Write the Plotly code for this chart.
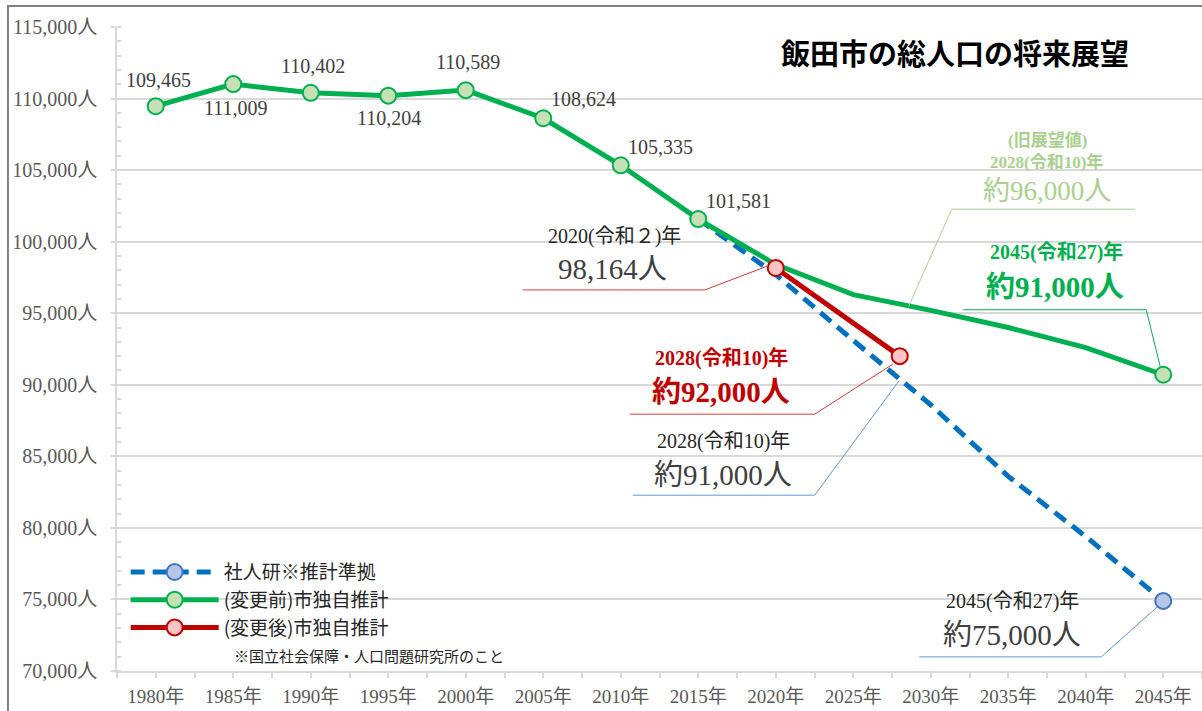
import plotly.graph_objects as go

# ---------------- data ----------------
years = [1980, 1985, 1990, 1995, 2000, 2005, 2010, 2015, 2020, 2025, 2030, 2035, 2040, 2045]
pop_before = [109465, 111009, 110402, 110204, 110589, 108624, 105335, 101581,
              98400, 96300, 95200, 94000, 92600, 90700]          # (変更前)市独自推計
ipss_years = [2015, 2020, 2025, 2030, 2035, 2040, 2045]
pop_ipss = [101581, 97700, 93100, 88600, 83600, 79400, 74900]    # 社人研推計準拠
after_years = [2020, 2028]
pop_after = [98164, 92000]                                        # (変更後)市独自推計
last_census_year = 2015

series_names = ["社人研※推計準拠", "(変更前)市独自推計", "(変更後)市独自推計"]
title_text = "飯田市の総人口の将来展望"
note_text = "※国立社会保障・人口問題研究所のこと"
y_ticks = list(range(70000, 115001, 5000))
x_ticks = years

# ---------------- styles ----------------
SERIF = "Liberation Serif, Noto Sans CJK JP, serif"
SANS = "Noto Sans CJK JP, sans-serif"
GREEN, GREEN_FILL = "#00b050", "#c5e0b4"
BLUE, BLUE_EDGE, BLUE_FILL = "#0070c0", "#4472c4", "#b4c7e7"
RED, RED_FILL = "#c00000", "#ffc4c4"
LIGHT_GREEN = "#a9d18e"
GRID = "#d9d9d9"
SMALL, BIG = 20, 29

fig = go.Figure()

# blue dashed (IPSS)
fig.add_trace(go.Scatter(x=ipss_years, y=pop_ipss, mode="lines",
                         line=dict(color=BLUE, width=5, dash="14px,8px"),
                         showlegend=False, hoverinfo="skip"))
fig.add_trace(go.Scatter(x=ipss_years[-1:], y=pop_ipss[-1:], mode="markers",
                         marker=dict(size=16, color=BLUE_FILL, line=dict(color=BLUE_EDGE, width=2)),
                         showlegend=False, hoverinfo="skip"))

# green (before change)
fig.add_trace(go.Scatter(x=years, y=pop_before, mode="lines",
                         line=dict(color=GREEN, width=5),
                         showlegend=False, hoverinfo="skip"))
mk_x = [x for x in years if x <= last_census_year or x == years[-1]]
mk_y = [v for x, v in zip(years, pop_before) if x <= last_census_year or x == years[-1]]
fig.add_trace(go.Scatter(x=mk_x, y=mk_y, mode="markers",
                         marker=dict(size=16, color=GREEN_FILL, line=dict(color=GREEN, width=2)),
                         showlegend=False, hoverinfo="skip"))

# red (after change)
fig.add_trace(go.Scatter(x=after_years, y=pop_after, mode="lines+markers",
                         line=dict(color=RED, width=5),
                         marker=dict(size=16, color=RED_FILL, line=dict(color=RED, width=2)),
                         showlegend=False, hoverinfo="skip"))

# legend-only traces
legend_specs = [
    (series_names[0], dict(color=BLUE, width=5, dash="14px,8px"), BLUE_FILL, BLUE_EDGE),
    (series_names[1], dict(color=GREEN, width=5), GREEN_FILL, GREEN),
    (series_names[2], dict(color=RED, width=5), RED_FILL, RED),
]
for name, ln, fill, edge in legend_specs:
    fig.add_trace(go.Scatter(x=[None], y=[None], mode="lines+markers", name=name,
                             line=ln, marker=dict(size=16, color=fill, line=dict(color=edge, width=2))))

annotations = []

# data labels for census values (offsets in px: dx, dy-up)
label_offsets = [(3, 26), (3, -24), (2, 27), (1, -22), (2, 28), (40, 19), (40, 18), (40, 18)]
for (x, v), (dx, dy) in zip(zip(years, pop_before), label_offsets):
    annotations.append(dict(x=x, y=v, xref="x", yref="y", text=f"{v:,}", showarrow=False,
                            xshift=dx, yshift=dy, xanchor="center", yanchor="middle",
                            font=dict(family=SERIF, size=20, color="#404040")))

# callouts: anchor point, text lines (text, size, color, bold, dx, dy), leader path, leader colour
callouts = [
    dict(x=after_years[0], y=pop_after[0],
         lines=[("2020(令和２)年", SMALL, "#262626", False, -161, 31),
                (f"{pop_after[0]:,}人", BIG, "#404040", False, -163, -1)],
         path=[(-253, -22), (-71, -22), (-8, 2)], color="#d23b3b"),
    dict(x=after_years[1], y=pop_after[1],
         lines=[("2028(令和10)年", SMALL, RED, True, -178, -2),
                ("約92,000人", BIG, RED, True, -179, -36)],
         path=[(-270, -58), (-85, -58), (-7, -8)], color="#d23b3b"),
    dict(x=after_years[1], y=pop_after[1],
         lines=[("2028(令和10)年", SMALL, "#262626", False, -176, -85),
                ("約91,000人", BIG, "#404040", False, -177, -119)],
         path=[(-267, -139), (-85, -139), (-1, -25)], color="#5b9bd5"),
    dict(x=after_years[1], y=pop_after[1],
         lines=[("(旧展望値)", 17, LIGHT_GREEN, True, 148, 216),
                ("2028(令和10)年", 17, LIGHT_GREEN, True, 147, 194),
                ("約96,000人", 27, LIGHT_GREEN, False, 147, 165)],
         path=[(235, 147), (52, 147), (9, 50)], color=LIGHT_GREEN),
    dict(x=years[-1], y=pop_before[-1],
         lines=[("2045(令和27)年", SMALL, GREEN, True, -107, 122),
                ("約91,000人", BIG, GREEN, True, -108, 88)],
         path=[(-200, 65), (-17, 65), (-3, 8)], color=GREEN),
    dict(x=ipss_years[-1], y=pop_ipss[-1],
         lines=[("2045(令和27)年", SMALL, "#262626", False, -151, -1),
                ("約75,000人", BIG, "#404040", False, -151, -34)],
         path=[(-244, -56), (-62, -56), (-6, -6)], color="#5b9bd5"),
]

shapes = []
for c in callouts:
    for text, size, color, bold, dx, dy in c["lines"]:
        annotations.append(dict(x=c["x"], y=c["y"], xref="x", yref="y", text=text, showarrow=False,
                                xshift=dx, yshift=dy, xanchor="center", yanchor="middle",
                                font=dict(family=SERIF, size=size, color=color,
                                          weight="bold" if bold else "normal")))
    p = c["path"]
    path = "M" + " L".join(f"{a},{b}" for a, b in p)
    shapes.append(dict(type="path", xref="x", yref="y", xsizemode="pixel", ysizemode="pixel",
                       xanchor=c["x"], yanchor=c["y"], path=path,
                       line=dict(color=c["color"], width=1)))

# title and note
annotations.append(dict(x=0.7724, y=0.9612, xref="paper", yref="paper", text=title_text,
                        showarrow=False, xanchor="center", yanchor="middle",
                        font=dict(family=SANS, size=29, color="#000000", weight="bold")))
annotations.append(dict(x=0.106, y=0.0248, xref="paper", yref="paper", text=note_text,
                        showarrow=False, xanchor="left", yanchor="middle",
                        font=dict(family=SANS, size=15, color="#262626")))

# outer frame
shapes.append(dict(type="rect", xref="paper", yref="paper", x0=-0.1005, x1=1.1, y0=-0.2, y1=1.0326,
                   line=dict(color="#808080", width=2), fillcolor="rgba(0,0,0,0)", layer="below"))

fig.update_layout(
    width=1202, height=711,
    margin=dict(l=117, r=0, t=27, b=40),
    paper_bgcolor="white", plot_bgcolor="white",
    showlegend=True,
    legend=dict(x=0.008, y=0.183, xanchor="left", yanchor="top", bgcolor="rgba(0,0,0,0)",
                itemwidth=88, font=dict(family=SANS, size=19, color="#262626"),
                tracegroupgap=0),
    annotations=annotations,
    shapes=shapes,
    xaxis=dict(range=[1977.5, 2047.5], tickvals=x_ticks, ticktext=[f"{y}年" for y in x_ticks],
               showgrid=False, zeroline=False, showline=True, linecolor=GRID, linewidth=1.5,
               ticks="outside", ticklen=5, tickcolor=GRID, tickwidth=1.5,
               minor=dict(tick0=1977.5, dtick=5, ticks="outside", ticklen=5, tickcolor=GRID, tickwidth=1.5),
               tickfont=dict(family=SERIF, size=19, color="#595959"), ticklabelstandoff=2,
               fixedrange=True),
    yaxis=dict(range=[70000, 115000], tickvals=y_ticks, ticktext=[f"{v:,}人" for v in y_ticks],
               showgrid=True, gridcolor=GRID, gridwidth=1.5, zeroline=False,
               showline=True, linecolor=GRID, linewidth=1.5,
               ticks="outside", ticklen=4, tickcolor=GRID, tickwidth=1.5,
               minor=dict(dtick=1000, ticks="inside", ticklen=4, tickcolor=GRID, tickwidth=1.5, showgrid=False),
               tickfont=dict(family=SERIF, size=20, color="#595959"), ticklabelstandoff=10,
               fixedrange=True),
)

fig.write_html("out.html")
